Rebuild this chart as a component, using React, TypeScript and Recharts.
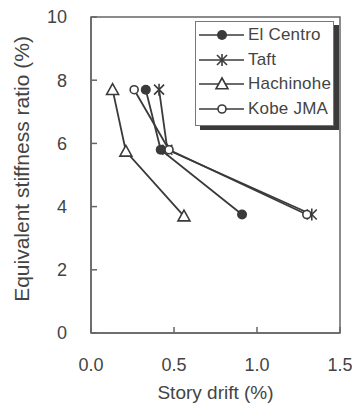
import { Legend, ReferenceArea, Scatter, ScatterChart, XAxis, YAxis } from "recharts"

const xTicks = [0, 0.5, 1.0, 1.5]
const yTicks = [0, 2, 4, 6, 8, 10]

const elCentro = [
  { drift: 0.33, stiffness: 7.7 },
  { drift: 0.42, stiffness: 5.8 },
  { drift: 0.91, stiffness: 3.75 },
]
const taft = [
  { drift: 0.41, stiffness: 7.7 },
  { drift: 0.46, stiffness: 5.8 },
  { drift: 1.33, stiffness: 3.75 },
]
const hachinohe = [
  { drift: 0.13, stiffness: 7.7 },
  { drift: 0.21, stiffness: 5.75 },
  { drift: 0.56, stiffness: 3.7 },
]
const kobe = [
  { drift: 0.26, stiffness: 7.7 },
  { drift: 0.47, stiffness: 5.8 },
  { drift: 1.3, stiffness: 3.75 },
]

const ink = "#3a3a3a"
const axisGray = "#666"
const textGray = "#444"
const font = "'Liberation Sans', Arial, sans-serif"

const FilledDot = ({ cx, cy }: any) => <circle cx={cx} cy={cy} r={5} fill={ink} />

const Asterisk = ({ cx, cy }: any) => {
  const s = 5
  return (
    <g stroke={ink} strokeWidth={1.6}>
      <line x1={cx - s} y1={cy - s} x2={cx + s} y2={cy + s} />
      <line x1={cx - s} y1={cy + s} x2={cx + s} y2={cy - s} />
      <line x1={cx} y1={cy - s - 1} x2={cx} y2={cy + s + 1} />
    </g>
  )
}

const Triangle = ({ cx, cy }: any) => {
  const s = 6
  return (
    <polygon
      points={`${cx},${cy - s} ${cx - s},${cy + s * 0.8} ${cx + s},${cy + s * 0.8}`}
      fill="#fff"
      stroke={ink}
      strokeWidth={1.6}
    />
  )
}

const Ring = ({ cx, cy }: any) => <circle cx={cx} cy={cy} r={4} fill="#fff" stroke={ink} strokeWidth={1.6} />

const series = [
  { name: "El Centro", data: elCentro, shape: FilledDot },
  { name: "Taft", data: taft, shape: Asterisk },
  { name: "Hachinohe", data: hachinohe, shape: Triangle },
  { name: "Kobe JMA", data: kobe, shape: Ring },
]

const YTitle = (props: any) => {
  const { x, y, height } = props.viewBox
  const cx = x + 21
  const cy = y + height / 2 - 6
  return (
    <text
      x={cx}
      y={cy}
      transform={`rotate(-90 ${cx} ${cy})`}
      textAnchor="middle"
      dominantBaseline="central"
      fill={textGray}
      fontSize={21}
      fontFamily={font}
    >
      Equivalent stiffness ratio (%)
    </text>
  )
}

const XTitle = (props: any) => {
  const { x, y, width } = props.viewBox
  return (
    <text
      x={x + width / 2}
      y={y + 59}
      textAnchor="middle"
      dominantBaseline="central"
      fill={textGray}
      fontSize={19}
      fontFamily={font}
    >
      Story drift (%)
    </text>
  )
}

const LegendBox = () => (
  <div
    style={{
      width: 139,
      height: 105,
      boxSizing: "border-box",
      background: "#fff",
      border: "1px solid #777",
      boxShadow: "5px 4px 0 #3a3a3a",
      paddingTop: 1,
      fontFamily: font,
      fontSize: 17,
      color: textGray,
    }}
  >
    {series.map((s) => {
      const Shape = s.shape
      return (
        <div key={s.name} style={{ display: "flex", alignItems: "center", height: 24.5 }}>
          <svg width={50} height={20} style={{ marginLeft: 2, flex: "none" }}>
            <line x1={1} y1={10} x2={46} y2={10} stroke={ink} strokeWidth={1.6} />
            <Shape cx={24} cy={10} />
          </svg>
          <span style={{ whiteSpace: "nowrap", letterSpacing: 0.2 }}>{s.name}</span>
        </div>
      )
    })}
  </div>
)

export default function App() {
  return (
    <div style={{ position: "absolute", left: 0, top: 0, width: 352, height: 403, background: "#fff" }}>
      <ScatterChart
        width={352}
        height={403}
        margin={{ top: 17, right: 12, bottom: 0, left: 0 }}
        style={{ fontFamily: font }}
      >
        <XAxis
          type="number"
          dataKey="drift"
          domain={[0, 1.5]}
          ticks={xTicks}
          tickFormatter={(v: number) => v.toFixed(1)}
          height={70}
          tickSize={-6}
          tickMargin={31}
          tick={{ fill: textGray, fontSize: 18 }}
          axisLine={{ stroke: axisGray, strokeWidth: 1.5 }}
          tickLine={{ stroke: axisGray, strokeWidth: 1.5 }}
          label={<XTitle />}
        />
        <YAxis
          type="number"
          dataKey="stiffness"
          domain={[0, 10]}
          ticks={yTicks}
          width={91}
          tickSize={-6}
          tickMargin={30}
          tick={{ fill: textGray, fontSize: 18 }}
          axisLine={{ stroke: axisGray, strokeWidth: 1.5 }}
          tickLine={{ stroke: axisGray, strokeWidth: 1.5 }}
          label={<YTitle />}
        />
        <ReferenceArea x1={0} x2={1.5} y1={0} y2={10} fill="none" stroke={axisGray} strokeWidth={1.5} />
        {series.map((s) => (
          <Scatter
            key={s.name}
            name={s.name}
            data={s.data}
            shape={s.shape}
            line={{ stroke: ink, strokeWidth: 1.8 }}
            lineType="joint"
            isAnimationActive={false}
          />
        ))}
        <Legend
          layout="horizontal"
          verticalAlign="middle"
          align="center"
          content={<LegendBox />}
          wrapperStyle={{ left: 195, top: 21, width: 139 }}
        />
      </ScatterChart>
    </div>
  )
}
